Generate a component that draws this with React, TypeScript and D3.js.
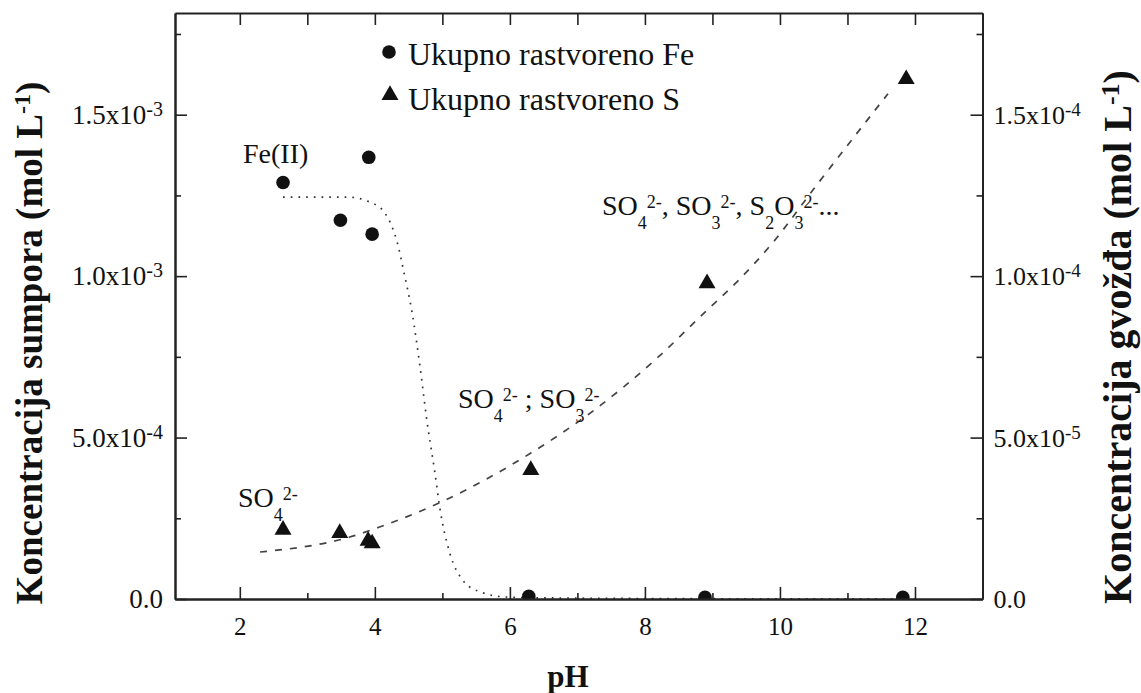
import * as d3 from "d3";
import { useEffect, useRef } from "react";

// Ukupno rastvoreno Fe (desna osa, mol/L)
const fePH = [2.64, 3.49, 3.91, 3.96, 6.28, 8.89, 11.82];
const feConc = [1.29e-4, 1.173e-4, 1.368e-4, 1.13e-4, 8e-7, 5e-7, 5e-7];

// Ukupno rastvoreno S (leva osa, mol/L)
const sPH = [2.64, 3.48, 3.9, 3.96, 6.31, 8.92, 11.87];
const sConc = [2.14e-4, 2.04e-4, 1.8e-4, 1.72e-4, 3.99e-4, 9.78e-4, 1.61e-3];

// tačkasta kriva za Fe (ocitano sa slike)
const feFitPH = [2.64, 3.59, 3.93, 4.15, 4.33, 4.44, 4.55, 4.67, 4.77, 4.89, 4.96, 5.11, 5.3, 5.56, 5.96, 6.74, 8.81, 12.0];
const feFitConc = [1.245e-4, 1.245e-4, 1.229e-4, 1.195e-4, 1.105e-4, 1.003e-4, 0.889e-4, 0.718e-4, 0.554e-4, 0.39e-4, 0.285e-4, 0.142e-4, 0.059e-4, 0.022e-4, 0.006e-4, 0.003e-4, 0.001e-4, 0];

// isprekidana kriva za S
const sFitPH = [2.3, 3.63, 4.07, 4.95, 6.31, 7.19, 8.18, 8.92, 9.36, 9.9, 10.52, 11.6];
const sFitConc = [1.455e-4, 1.92e-4, 2.229e-4, 2.972e-4, 4.52e-4, 5.759e-4, 7.461e-4, 8.947e-4, 9.814e-4, 11.053e-4, 12.755e-4, 15.65e-4];

// ose
const xMajor = [2, 4, 6, 8, 10, 12];
const xMinor = [3, 5, 7, 9, 11];
const xTop = [2, 3, 4, 5, 6, 7, 8, 9, 10, 11, 12];
const leftTicks = [0, 5e-4, 1e-3, 1.5e-3];
const leftLabels = [["0.0", ""], ["5.0x10", "-4"], ["1.0x10", "-3"], ["1.5x10", "-3"]];
const leftMinor = [2.5e-4, 7.5e-4, 1.25e-3, 1.75e-3];
const rightTicks = [0, 5e-5, 1e-4, 1.5e-4];
const rightLabels = [["0.0", ""], ["5.0x10", "-5"], ["1.0x10", "-4"], ["1.5x10", "-4"]];
const rightMinor = [2.5e-5, 7.5e-5, 1.25e-4, 1.75e-4];

const legendLabels = ["Ukupno rastvoreno Fe", "Ukupno rastvoreno S"];

type Seg = [string, "n" | "sub" | "sup"];

const FONT = "'Liberation Serif', 'Times New Roman', serif";

const App = () => {
  const svgRef = useRef<SVGSVGElement | null>(null);

  useEffect(() => {
    if (!svgRef.current) return;
    const svg = d3.select(svgRef.current);
    svg.selectAll("*").remove();

    const x = d3.scaleLinear().domain([1.04, 13]).range([175, 982.5]);
    const yS = d3.scaleLinear().domain([0, 1.815e-3]).range([599, 13]);
    const yFe = d3.scaleLinear().domain([0, 1.815e-4]).range([599, 13]);
    const [x0, x1] = x.range();
    const [yb, yt] = yS.range();

    const root = svg.append("g").attr("font-family", FONT).attr("fill", "#111");

    // tekst sa indeksima i eksponentima
    const rich = (
      g: any,
      px: number,
      py: number,
      segs: Seg[],
      size: number,
      small: number,
      anchor = "start",
      supOff = -7
    ) => {
      const t = g
        .append("text")
        .attr("x", px)
        .attr("y", py)
        .attr("font-size", size)
        .attr("text-anchor", anchor)
        .style("white-space", "pre");
      let cur = 0;
      segs.forEach(([s, k]) => {
        const off = k === "sub" ? 14 : k === "sup" ? supOff : 0;
        t.append("tspan")
          .attr("dy", off - cur)
          .attr("font-size", k === "n" ? size : small)
          .text(s);
        cur = off;
      });
      return t;
    };

    // clip za tacke
    svg
      .append("defs")
      .append("clipPath")
      .attr("id", "plot-clip")
      .append("rect")
      .attr("x", x0)
      .attr("y", yt)
      .attr("width", x1 - x0)
      .attr("height", yb - yt);

    const plot = root.append("g").attr("clip-path", "url(#plot-clip)");

    // tačkasta kriva Fe
    const feLine = d3
      .line<number>()
      .x((_, i) => x(feFitPH[i]))
      .y((d) => yFe(d))
      .curve(d3.curveMonotoneX);
    plot
      .append("path")
      .datum(feFitConc)
      .attr("fill", "none")
      .attr("stroke", "#333")
      .attr("stroke-width", 1.7)
      .attr("stroke-dasharray", "1.7 6")
      .attr("d", feLine);

    // isprekidana kriva S
    const sLine = d3
      .line<number>()
      .x((_, i) => x(sFitPH[i]))
      .y((d) => yS(d))
      .curve(d3.curveMonotoneX);
    plot
      .append("path")
      .datum(sFitConc)
      .attr("fill", "none")
      .attr("stroke", "#444")
      .attr("stroke-width", 1.7)
      .attr("stroke-dasharray", "7 8")
      .attr("d", sLine);

    // Fe tačke
    plot
      .selectAll(".fe")
      .data(feConc)
      .enter()
      .append("circle")
      .attr("cx", (_, i) => x(fePH[i]))
      .attr("cy", (d) => yFe(d))
      .attr("r", 6.8)
      .attr("fill", "#111");

    // S trouglovi
    const tri = d3.symbol().type(d3.symbolTriangle).size(125);
    plot
      .selectAll(".s")
      .data(sConc)
      .enter()
      .append("path")
      .attr("d", tri)
      .attr("transform", (d, i) => `translate(${x(sPH[i])},${yS(d)})`)
      .attr("fill", "#111");

    // ose
    const axisStyle = (g: any) => {
      g.select(".domain").attr("stroke", "#222").attr("stroke-width", 2);
      g.selectAll(".tick line").attr("stroke", "#222").attr("stroke-width", 1.6);
    };

    root
      .append("g")
      .attr("transform", `translate(0,${yb})`)
      .call(d3.axisBottom(x).tickValues(xMinor).tickSize(-6).tickSizeOuter(0).tickFormat(() => ""))
      .call(axisStyle);
    const bottom = root
      .append("g")
      .attr("transform", `translate(0,${yb})`)
      .call(d3.axisBottom(x).tickValues(xMajor).tickSize(-12).tickSizeOuter(0).tickPadding(18))
      .call(axisStyle);
    bottom
      .selectAll("text")
      .attr("font-family", FONT)
      .attr("font-size", 25)
      .attr("fill", "#111");

    root
      .append("g")
      .attr("transform", `translate(0,${yt})`)
      .call(d3.axisTop(x).tickValues(xTop).tickSize(-12).tickSizeOuter(0).tickFormat(() => ""))
      .call(axisStyle);

    root
      .append("g")
      .attr("transform", `translate(${x0},0)`)
      .call(d3.axisLeft(yS).tickValues(leftTicks).tickSize(-12).tickSizeOuter(0).tickFormat(() => ""))
      .call(axisStyle);
    root
      .append("g")
      .attr("transform", `translate(${x0},0)`)
      .call(d3.axisLeft(yS).tickValues(leftMinor).tickSize(-6).tickSizeOuter(0).tickFormat(() => ""))
      .call(axisStyle);

    root
      .append("g")
      .attr("transform", `translate(${x1},0)`)
      .call(d3.axisRight(yFe).tickValues(rightTicks).tickSize(-12).tickSizeOuter(0).tickFormat(() => ""))
      .call(axisStyle);
    root
      .append("g")
      .attr("transform", `translate(${x1},0)`)
      .call(d3.axisRight(yFe).tickValues(rightMinor).tickSize(-6).tickSizeOuter(0).tickFormat(() => ""))
      .call(axisStyle);

    // oznake na y osama
    leftTicks.forEach((v, i) => {
      const [a, b] = leftLabels[i];
      const segs: Seg[] = b ? [[a, "n"], [b, "sup"]] : [[a, "n"]];
      rich(root, x0 - 12, yS(v) + 9, segs, 27, 20, "end", -8);
    });
    rightTicks.forEach((v, i) => {
      const [a, b] = rightLabels[i];
      const segs: Seg[] = b ? [[a, "n"], [b, "sup"]] : [[a, "n"]];
      rich(root, x1 + 11, yFe(v) + 9, segs, 26, 19, "start", -8);
    });

    // naslovi osa
    root
      .append("text")
      .attr("x", 568)
      .attr("y", 687)
      .attr("text-anchor", "middle")
      .attr("font-size", 31)
      .attr("font-weight", "bold")
      .text("pH");

    const leftTitle = root.append("g").attr("transform", "translate(42,343) rotate(-90)").attr("font-weight", "bold");
    rich(leftTitle, 0, 0, [["Koncentracija sumpora (mol L", "n"], ["-1", "sup"], [")", "n"]], 37, 24, "middle", -12);

    const rightTitle = root.append("g").attr("transform", "translate(1131,337) rotate(-90)").attr("font-weight", "bold");
    rich(rightTitle, 0, 0, [["Koncentracija gvožđa (mol L", "n"], ["-1", "sup"], [")", "n"]], 40, 26, "middle", -12);

    // legenda
    const leg = root.append("g");
    leg.append("circle").attr("cx", 389).attr("cy", 52).attr("r", 6.8).attr("fill", "#111");
    leg.append("path").attr("d", tri).attr("transform", "translate(390,95)").attr("fill", "#111");
    legendLabels.forEach((l, i) => {
      leg
        .append("text")
        .attr("x", 408)
        .attr("y", 65 + i * 45)
        .attr("font-size", 32)
        .text(l);
    });

    // anotacije
    root.append("text").attr("x", 243).attr("y", 163).attr("font-size", 28).text("Fe(II)");
    rich(root, 238, 507, [["SO", "n"], ["4", "sub"], ["2-", "sup"]], 28, 18);
    rich(root, 458, 408, [["SO", "n"], ["4", "sub"], ["2-", "sup"], [" ; SO", "n"], ["3", "sub"], ["2-", "sup"]], 28, 18);
    rich(
      root,
      602,
      215,
      [
        ["SO", "n"], ["4", "sub"], ["2-", "sup"], [", SO", "n"], ["3", "sub"], ["2-", "sup"],
        [", S", "n"], ["2", "sub"], ["O", "n"], ["3", "sub"], ["2-", "sup"], ["...", "n"],
      ],
      28,
      18
    );
  }, []);

  return (
    <div style={{ position: "absolute", left: 0, top: 0 }}>
      <svg ref={svgRef} width={1141} height={693} style={{ display: "block", background: "#fff" }} />
    </div>
  );
};

export default App;
